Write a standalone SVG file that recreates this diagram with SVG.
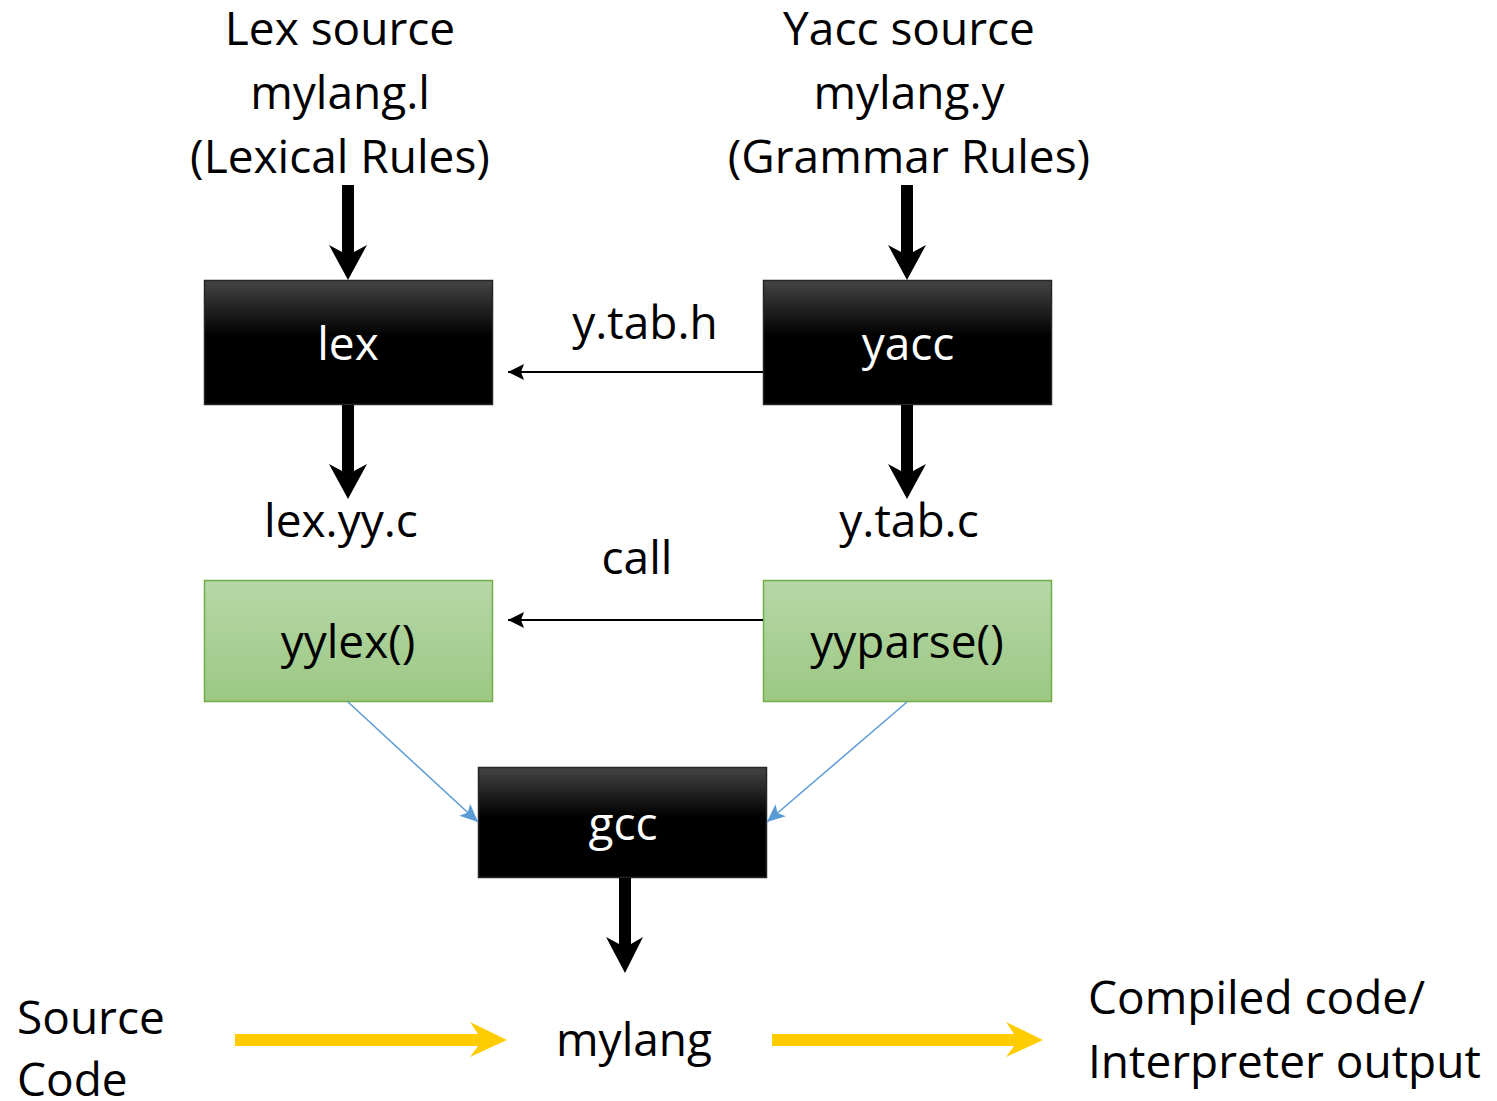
<svg xmlns="http://www.w3.org/2000/svg" width="1497" height="1101" viewBox="0 0 1497 1101">
  <defs>
    <linearGradient id="gDark" x1="0" y1="0" x2="0" y2="1">
      <stop offset="0" stop-color="#444444"/>
      <stop offset="0.45" stop-color="#000000"/>
      <stop offset="1" stop-color="#000000"/>
    </linearGradient>
    <linearGradient id="gGreen" x1="0" y1="0" x2="0" y2="1">
      <stop offset="0" stop-color="#b6d7a8"/>
      <stop offset="1" stop-color="#9cc883"/>
    </linearGradient>
    <marker id="mThin" markerWidth="16" markerHeight="16" refX="16" refY="8" orient="auto" markerUnits="userSpaceOnUse">
      <path d="M16,8 L0,0 L3,8 L0,16 Z" fill="#000"/>
    </marker>
    <marker id="mBlue" markerWidth="18" markerHeight="16" refX="18" refY="8" orient="auto" markerUnits="userSpaceOnUse">
      <path d="M18,8 L0,0 L4,8 L0,16 Z" fill="#5b9bd5"/>
    </marker>
  </defs>
  <style>
    .t { font-family: "Open Sans", "Noto Sans", sans-serif; font-size: 46px; fill: #000; }
    .c { text-anchor: middle; }
    .w { fill: #fff; }
    .dark { fill: url(#gDark); stroke: #262626; stroke-width: 1.5; }
    .green { fill: url(#gGreen); stroke: #70ad47; stroke-width: 1.5; }
    .thin { stroke: #000; stroke-width: 2; fill: none; }
    .blue { stroke: #5b9bd5; stroke-width: 1.5; fill: none; }
    .bold { fill: #000; }
    .gold { fill: #ffcc00; }
  </style>

  <!-- source labels -->
  <g id="lexsrc">
    <text class="t c" x="340" y="45">Lex source</text>
    <text class="t c" x="340" y="109">mylang.l</text>
    <text class="t c" x="340" y="173">(Lexical Rules)</text>
  </g>
  <g id="yaccsrc">
    <text class="t c" x="909" y="45">Yacc source</text>
    <text class="t c" x="909" y="109">mylang.y</text>
    <text class="t c" x="909" y="173">(Grammar Rules)</text>
  </g>

  <!-- tool boxes -->
  <g id="lex">
    <rect class="dark" x="204.5" y="280.5" width="288" height="124"/>
    <text class="t c w" x="348" y="360">lex</text>
  </g>
  <g id="yacc">
    <rect class="dark" x="763.5" y="280.5" width="288" height="124"/>
    <text class="t c w" x="908" y="360">yacc</text>
  </g>

  <!-- generated files -->
  <g id="lexyyc"><text class="t c" x="341" y="537">lex.yy.c</text></g>
  <g id="ytabc"><text class="t c" x="909" y="537">y.tab.c</text></g>

  <!-- functions -->
  <g id="yylex">
    <rect class="green" x="204.5" y="580.5" width="288" height="121"/>
    <text class="t c" x="348" y="658">yylex()</text>
  </g>
  <g id="yyparse">
    <rect class="green" x="763.5" y="580.5" width="288" height="121"/>
    <text class="t c" x="907" y="658">yyparse()</text>
  </g>

  <!-- compiler -->
  <g id="gcc">
    <rect class="dark" x="478.5" y="767.5" width="288" height="110"/>
    <text class="t c w" x="623" y="840">gcc</text>
  </g>

  <!-- bottom row -->
  <g id="source">
    <text class="t" x="17" y="1034">Source</text>
    <text class="t" x="17" y="1096">Code</text>
  </g>
  <g id="mylang"><text class="t c" x="634" y="1056">mylang</text></g>
  <g id="output">
    <text class="t" x="1088" y="1014">Compiled code/</text>
    <text class="t" x="1088" y="1078">Interpreter output</text>
  </g>

  <!-- connectors -->
  <g id="connectors">
    <!-- thick downward arrows -->
    <path class="bold" d="M342,185 H354 V252 L367,245 L348,280 L329,245 L342,252 Z"/>
    <path class="bold" d="M901,185 H913 V252 L926,245 L907,280 L888,245 L901,252 Z"/>
    <path class="bold" d="M342,405 H354 V471 L367,464 L348,499 L329,464 L342,471 Z"/>
    <path class="bold" d="M901,405 H913 V471 L926,464 L907,499 L888,464 L901,471 Z"/>
    <path class="bold" d="M619,878 H631 V944 L643,937 L625,973 L606,937 L619,944 Z"/>

    <!-- thin header / call arrows -->
    <line class="thin" x1="763" y1="372" x2="508" y2="372" marker-end="url(#mThin)"/>
    <text class="t c" x="645" y="339">y.tab.h</text>
    <line class="thin" x1="763" y1="620" x2="508" y2="620" marker-end="url(#mThin)"/>
    <text class="t c" x="637" y="574">call</text>

    <!-- blue compile inputs -->
    <line class="blue" x1="348" y1="702" x2="478" y2="822" marker-end="url(#mBlue)"/>
    <line class="blue" x1="907" y1="702" x2="767" y2="822" marker-end="url(#mBlue)"/>

    <!-- yellow flow arrows -->
    <path class="gold" d="M235,1034 H478 L470,1022 L507,1040 L470,1057 L478,1046 H235 Z"/>
    <path class="gold" d="M772,1034 H1014 L1006,1022 L1043,1040 L1006,1057 L1014,1046 H772 Z"/>
  </g>
</svg>
